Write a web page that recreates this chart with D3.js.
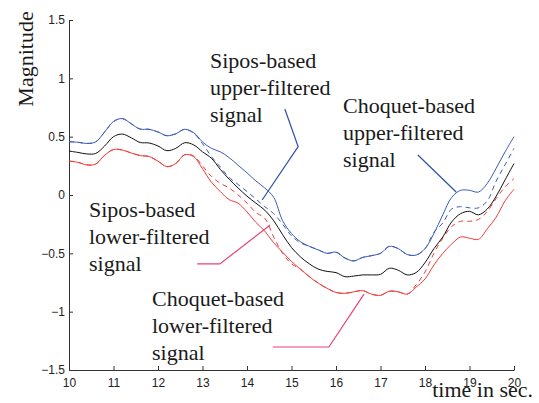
<!DOCTYPE html>
<html>
<head>
<meta charset="utf-8">
<script src="https://cdn.jsdelivr.net/npm/d3@7"></script>
<style>
html,body{margin:0;padding:0;background:#fff;}
svg{display:block;}
</style>
</head>
<body>
<svg id="chart" width="539" height="403"></svg>
<script>
// ---- data ----
const times = d3.range(0, 51).map(i => +(10 + i * 0.2).toFixed(1));
const xTicks = [10, 11, 12, 13, 14, 15, 16, 17, 18, 19, 20];
const yTicks = [-1.5, -1, -0.5, 0, 0.5, 1, 1.5];

// middle (black) signal
const middle = [0.377,0.365,0.352,0.356,0.42,0.50,0.522,0.49,0.45,0.446,
  0.42,0.38,0.40,0.448,0.43,0.37,0.315,0.22,0.135,0.06,
  -0.01,-0.07,-0.13,-0.22,-0.34,-0.45,-0.53,-0.59,-0.635,-0.655,
  -0.665,-0.70,-0.695,-0.685,-0.685,-0.68,-0.628,-0.645,-0.685,-0.665,
  -0.58,-0.46,-0.36,-0.23,-0.16,-0.14,-0.17,-0.12,-0.01,0.13,0.27];
// Choquet-based upper (solid blue)
const choquetUpper = [0.457,0.452,0.442,0.455,0.54,0.63,0.655,0.61,0.565,0.563,
  0.54,0.508,0.525,0.563,0.535,0.455,0.40,0.37,0.32,0.255,
  0.19,0.12,0.06,-0.02,-0.22,-0.33,-0.40,-0.44,-0.47,-0.50,
  -0.49,-0.54,-0.565,-0.535,-0.52,-0.50,-0.44,-0.46,-0.51,-0.515,
  -0.46,-0.33,-0.17,-0.02,0.04,0.04,0.025,0.10,0.23,0.37,0.50];
// Sipos-based upper (dashed blue)
const siposUpper = [0.457,0.452,0.442,0.455,0.54,0.63,0.655,0.61,0.565,0.563,
  0.54,0.508,0.525,0.563,0.53,0.44,0.33,0.24,0.15,0.09,
  0.03,-0.035,-0.10,-0.16,-0.25,-0.35,-0.41,-0.44,-0.47,-0.50,
  -0.49,-0.54,-0.565,-0.535,-0.52,-0.50,-0.44,-0.46,-0.51,-0.515,
  -0.46,-0.32,-0.24,-0.12,-0.10,-0.11,-0.11,-0.05,0.12,0.26,0.40];
// Choquet-based lower (solid red)
const choquetLower = [0.291,0.28,0.258,0.265,0.34,0.39,0.385,0.36,0.338,0.33,
  0.29,0.243,0.27,0.345,0.33,0.225,0.11,0.03,-0.04,-0.07,
  -0.145,-0.235,-0.31,-0.41,-0.49,-0.57,-0.635,-0.70,-0.755,-0.80,
  -0.835,-0.843,-0.83,-0.82,-0.85,-0.86,-0.825,-0.83,-0.85,-0.79,
  -0.72,-0.60,-0.50,-0.42,-0.36,-0.37,-0.38,-0.29,-0.19,-0.05,0.05];
// Sipos-based lower (dashed red)
const siposLower = [0.291,0.28,0.258,0.265,0.34,0.39,0.385,0.36,0.338,0.33,
  0.29,0.243,0.27,0.345,0.335,0.25,0.16,0.10,0.06,0.0,
  -0.07,-0.15,-0.20,-0.36,-0.50,-0.59,-0.635,-0.70,-0.755,-0.80,
  -0.835,-0.843,-0.83,-0.82,-0.85,-0.86,-0.825,-0.83,-0.85,-0.77,
  -0.66,-0.50,-0.37,-0.27,-0.225,-0.225,-0.21,-0.14,-0.03,0.07,0.14];

// annotation texts
const labels = [
  {lines:["Sipos-based","upper-filtered","signal"], x:210, y:68},
  {lines:["Choquet-based","upper-filtered","signal"], x:343, y:113},
  {lines:["Sipos-based","lower-filtered","signal"], x:89, y:217},
  {lines:["Choquet-based","lower-filtered","signal"], x:152, y:306}
];
// pointer lines in data coordinates [time, magnitude]
const pointers = [
  {pts:[[14.85,0.737],[15.15,0.414],[14.34,-0.043]], color:"#3050a8"},
  {pts:[[17.84,0.343],[18.70,0.026]], color:"#3050a8"},
  {pts:[[12.88,-0.591],[13.39,-0.591],[14.52,-0.257]], color:"#e8407a"},
  {pts:[[14.58,-1.303],[15.84,-1.303],[16.63,-0.849]], color:"#e8407a"}
];

// ---- drawing ----
const svg = d3.select("#chart");
const x = d3.scaleLinear().domain([10, 20]).range([69, 514]);
const y = d3.scaleLinear().domain([-1.5, 1.5]).range([370, 20]);

const fmt = d => (d < 0 ? "\u2212" : "") + Math.abs(d);

const gx = svg.append("g").attr("transform", "translate(0,370)")
  .call(d3.axisBottom(x).tickValues(xTicks).tickSizeInner(-4).tickSizeOuter(0).tickPadding(8).tickFormat(d => d));
const gy = svg.append("g").attr("transform", "translate(69,0)")
  .call(d3.axisLeft(y).tickValues(yTicks).tickSizeInner(-4).tickSizeOuter(0).tickPadding(4).tickFormat(fmt));
[gx, gy].forEach(g => {
  g.selectAll("text").attr("font-family", "'Liberation Sans', Arial, Helvetica, sans-serif")
    .attr("font-size", 12).attr("fill", "#222");
  g.selectAll("line,path").attr("stroke", "#333");
});

const line = d3.line().x((d, i) => x(times[i])).y(d => y(d)).curve(d3.curveCatmullRom.alpha(0.5));

const series = [
  {data: siposUpper, color:"#3a5cb4", dash:"5,4"},
  {data: siposLower, color:"#f03a3a", dash:"5,4"},
  {data: middle, color:"#111", dash:null},
  {data: choquetUpper, color:"#3a5cb4", dash:null},
  {data: choquetLower, color:"#f03a3a", dash:null}
];
series.forEach(s => {
  svg.append("path").datum(s.data).attr("d", line)
    .attr("fill", "none").attr("stroke", s.color).attr("stroke-width", 1)
    .attr("stroke-dasharray", s.dash);
});

const pl = d3.line().x(d => x(d[0])).y(d => y(d[1]));
pointers.forEach(p => {
  svg.append("path").datum(p.pts).attr("d", pl)
    .attr("fill", "none").attr("stroke", p.color).attr("stroke-width", 1.2);
});

labels.forEach(l => {
  const t = svg.append("text").attr("font-family", "'Liberation Serif', 'Times New Roman', serif")
    .attr("font-size", 22).attr("fill", "#1a1a1a");
  l.lines.forEach((s, i) => t.append("tspan").attr("x", l.x).attr("y", l.y + i * 27).text(s));
});

svg.append("text").attr("transform", "translate(33,59) rotate(-90)")
  .attr("text-anchor", "middle")
  .attr("font-family", "'Liberation Serif', 'Times New Roman', serif")
  .attr("font-size", 22).attr("fill", "#1a1a1a").text("Magnitude");
svg.append("text").attr("x", 533).attr("y", 397).attr("text-anchor", "end")
  .attr("font-family", "'Liberation Serif', 'Times New Roman', serif")
  .attr("font-size", 22).attr("fill", "#1a1a1a").text("time in sec.");
</script>
</body>
</html>
